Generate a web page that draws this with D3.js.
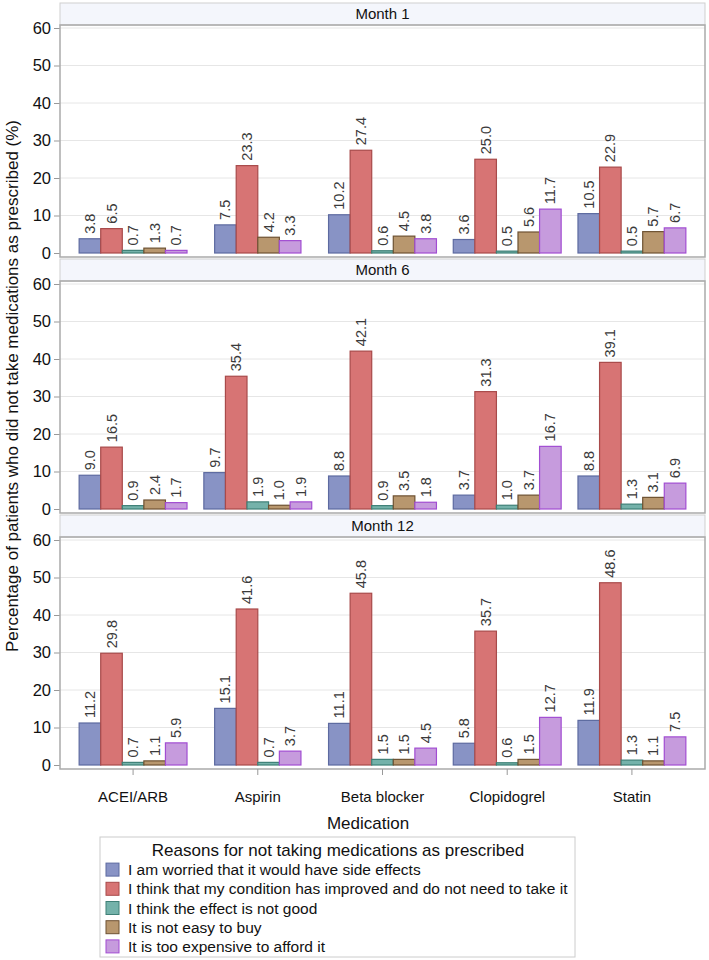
<!DOCTYPE html>
<html><head><meta charset="utf-8">
<script src="https://cdn.jsdelivr.net/npm/d3@7"></script>
<style>body{margin:0;background:#fff}svg{display:block;font-family:"Liberation Sans",Arial,sans-serif}</style>
</head><body><svg id="c" width="709" height="960"></svg>
<script>
const categories = ["ACEI/ARB","Aspirin","Beta blocker","Clopidogrel","Statin"];
const panels = ["Month 1","Month 6","Month 12"];
const reasons = [
  "I am worried that it would have side effects",
  "I think that my condition has improved and do not need to take it",
  "I think the effect is not good",
  "It is not easy to buy",
  "It is too expensive to afford it"
];
// values[category][reason]; null = not shown
const month1 = [
  [3.8, 6.5, 0.7, 1.3, 0.7],
  [7.5, 23.3, null, 4.2, 3.3],
  [10.2, 27.4, 0.6, 4.5, 3.8],
  [3.6, 25.0, 0.5, 5.6, 11.7],
  [10.5, 22.9, 0.5, 5.7, 6.7]
];
const month6 = [
  [9.0, 16.5, 0.9, 2.4, 1.7],
  [9.7, 35.4, 1.9, 1.0, 1.9],
  [8.8, 42.1, 0.9, 3.5, 1.8],
  [3.7, 31.3, 1.0, 3.7, 16.7],
  [8.8, 39.1, 1.3, 3.1, 6.9]
];
const month12 = [
  [11.2, 29.8, 0.7, 1.1, 5.9],
  [15.1, 41.6, 0.7, null, 3.7],
  [11.1, 45.8, 1.5, 1.5, 4.5],
  [5.8, 35.7, 0.6, 1.5, 12.7],
  [11.9, 48.6, 1.3, 1.1, 7.5]
];
const yTicks = [0,10,20,30,40,50,60];
const fills = ["#8893C5","#D77474","#74B2AA","#B8976E","#C69BDD"];
const strokes = ["#5D6AA0","#A84A4A","#3F8077","#6E5232","#A24DD2"];
const panelData = [month1, month6, month12];

const svg = d3.select("#c");
const L = 60, R = 705;
const x = d3.scaleBand().domain(categories).range([L, R]).paddingInner(0).paddingOuter(0.086);
const barW = x.step() * 0.173;

panels.forEach((p, i) => {
  const top = 3 + i * 256;
  const hdrH = 22;
  const plotTop = top + hdrH;
  const plotBot = top + 254;
  const y = d3.scaleLinear().domain([0, 60]).range([plotBot - 4, plotTop + 3]);
  const g = svg.append("g");
  // header
  g.append("rect").attr("x", L).attr("y", top).attr("width", R - L).attr("height", hdrH)
    .attr("fill", "#F4F6FC").attr("stroke", "#cfcfcf");
  g.append("text").attr("x", (L + R) / 2).attr("y", top + hdrH / 2 + 5).attr("text-anchor", "middle")
    .attr("font-size", 15).attr("fill", "#111").text(p);
  // grid
  g.selectAll(".grid").data(yTicks.filter(d => d > 0)).join("line")
    .attr("x1", L).attr("x2", R).attr("y1", d => y(d)).attr("y2", d => y(d))
    .attr("stroke", "#e6e6e6").attr("stroke-width", 1);
  // y axis
  const ax = g.append("g").attr("transform", `translate(${L},0)`)
    .call(d3.axisLeft(y).tickValues(yTicks).tickSize(6).tickPadding(3));
  ax.select(".domain").remove();
  ax.selectAll(".tick line").attr("stroke", "#999");
  ax.selectAll(".tick text").attr("font-size", 16.5).attr("fill", "#111").attr("font-family", "Liberation Sans, Arial, sans-serif");
  // bars
  const data = panelData[i];
  categories.forEach((c, ci) => {
    const present = reasons.map((r, ri) => ({ri, v: data[ci][ri]})).filter(d => d.v !== null);
    const cx = x(c) + x.bandwidth() / 2;
    const inner = d3.scaleBand().domain(present.map(d => d.ri)).range([cx - present.length * barW / 2, cx + present.length * barW / 2]);
    const bg = g.append("g");
    bg.selectAll("rect").data(present).join("rect")
      .attr("x", d => inner(d.ri)).attr("width", inner.bandwidth())
      .attr("y", d => y(d.v)).attr("height", d => y(0) - y(d.v))
      .attr("fill", d => fills[d.ri]).attr("stroke", d => strokes[d.ri]).attr("stroke-width", 1.2);
    bg.selectAll("text").data(present).join("text")
      .attr("transform", d => `translate(${inner(d.ri) + inner.bandwidth() / 2 + 5},${y(d.v) - 5}) rotate(-90)`)
      .attr("font-size", 14.5).attr("fill", "#3a3a3a").text(d => d.v.toFixed(1));
  });
  // plot border
  g.append("rect").attr("x", L).attr("y", plotTop).attr("width", R - L).attr("height", plotBot - plotTop)
    .attr("fill", "none").attr("stroke", "#aaa").attr("stroke-width", 1.5);
  if (i === panels.length - 1) {
    const xa = g.append("g").attr("transform", `translate(0,${plotBot})`)
      .call(d3.axisBottom(x).tickSize(6).tickPadding(16));
    xa.select(".domain").remove();
    xa.selectAll(".tick line").attr("stroke", "#999");
    xa.selectAll(".tick text").attr("font-size", 15).attr("fill", "#111").attr("font-family", "Liberation Sans, Arial, sans-serif");
  }
});

// axis titles
svg.append("text").attr("transform", "translate(18,386) rotate(-90)").attr("text-anchor", "middle")
  .attr("font-size", 17).attr("fill", "#111").text("Percentage of patients who did not take medications as prescribed (%)");
svg.append("text").attr("x", 368).attr("y", 829).attr("text-anchor", "middle")
  .attr("font-size", 17).attr("fill", "#111").text("Medication");

// legend
const lg = svg.append("g");
lg.append("rect").attr("x", 100).attr("y", 837).attr("width", 475).attr("height", 120)
  .attr("fill", "#fff").attr("stroke", "#ccc");
lg.append("text").attr("x", 338).attr("y", 856).attr("text-anchor", "middle").attr("font-size", 17)
  .attr("fill", "#111").text("Reasons for not taking medications as prescribed");
const ly = d3.scaleBand().domain(reasons).range([860, 956]);
reasons.forEach((r, ri) => {
  const yy = ly(r) + ly.bandwidth() / 2;
  lg.append("rect").attr("x", 106).attr("y", yy - 6.5).attr("width", 13).attr("height", 13)
    .attr("fill", fills[ri]).attr("stroke", strokes[ri]).attr("stroke-width", 1);
  lg.append("text").attr("x", 128).attr("y", yy + 5.5).attr("font-size", 15.5).attr("fill", "#111").text(r);
});
</script></body></html>
